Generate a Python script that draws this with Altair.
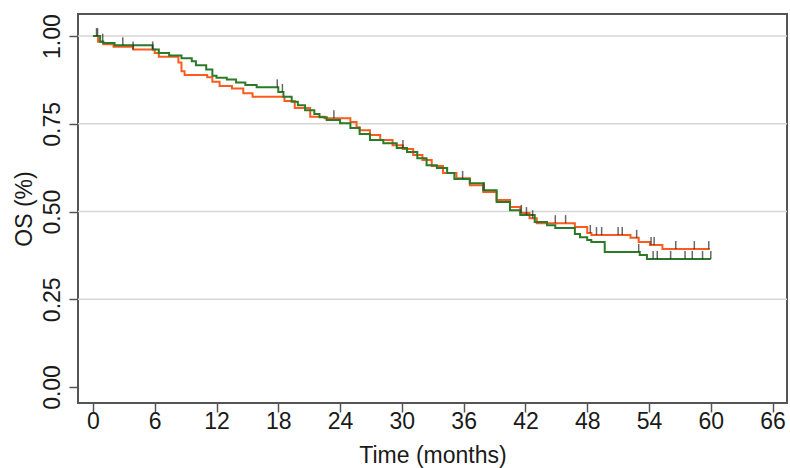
import altair as alt
import pandas as pd

# Step times (months) and survival after each step
green_t = [0, 0.7, 1.0, 2.1, 5.8, 6.4, 7.4, 8.6, 9.6, 10.0, 11.0, 11.6, 12.0, 13.0, 13.9,
           14.8, 15.9, 18.0, 18.5, 19.3, 19.9, 20.6, 21.5, 22.0, 22.7, 24.0, 25.0, 25.9,
           26.9, 28.2, 29.5, 30.5, 31.5, 32.4, 33.4, 34.4, 35.1, 36.6, 37.9, 39.2, 40.5,
           41.5, 42.9, 44.1, 44.9, 46.8, 47.3, 48.0, 48.4, 49.7, 53.1, 53.8]
green_s = [1.0, 0.984, 0.980, 0.974, 0.962, 0.952, 0.945, 0.937, 0.928, 0.917, 0.905, 0.887,
           0.881, 0.876, 0.868, 0.861, 0.854, 0.841, 0.827, 0.813, 0.803, 0.789, 0.778,
           0.769, 0.761, 0.752, 0.738, 0.721, 0.704, 0.695, 0.681, 0.670, 0.652, 0.632,
           0.624, 0.610, 0.593, 0.581, 0.561, 0.527, 0.504, 0.490, 0.470, 0.461, 0.453,
           0.436, 0.427, 0.419, 0.413, 0.385, 0.376, 0.365]
green_end = 60.0

orange_t = [0, 0.5, 1.0, 2.0, 3.9, 6.0, 6.4, 8.3, 8.6, 8.9, 11.1, 11.6, 12.3, 13.5, 14.6,
            15.5, 18.6, 19.6, 21.1, 22.5, 25.0, 25.6, 25.9, 26.9, 27.9, 29.1, 30.1, 31.1,
            32.0, 32.9, 34.0, 35.3, 36.6, 37.9, 39.2, 40.5, 41.5, 42.4, 43.1, 46.8, 48.0,
            48.4, 52.2, 53.0, 54.1, 55.3]
orange_s = [1.0, 0.984, 0.977, 0.970, 0.962, 0.952, 0.941, 0.925, 0.900, 0.889, 0.883,
            0.870, 0.858, 0.851, 0.837, 0.827, 0.815, 0.795, 0.770, 0.766, 0.755, 0.740,
            0.732, 0.718, 0.704, 0.689, 0.678, 0.661, 0.647, 0.630, 0.610, 0.595, 0.575,
            0.556, 0.533, 0.513, 0.496, 0.481, 0.467, 0.456, 0.439, 0.433, 0.425, 0.413,
            0.405, 0.393]
orange_end = 59.9

# Censoring times
green_cens = [0.35, 0.95, 2.9, 5.8, 17.9, 18.4, 30.1, 35.9, 38.0, 42.1, 53.0, 54.4, 54.8,
              56.1, 57.5, 58.2, 59.2, 60.0]
orange_cens = [0.45, 3.9, 23.4, 41.6, 42.7, 44.9, 45.9, 48.3, 48.9, 49.4, 51.0, 51.4, 52.8,
               54.2, 54.5, 56.6, 58.4, 59.8]

x_ticks = [0, 6, 12, 18, 24, 30, 36, 42, 48, 54, 60, 66]
y_ticks = [0.0, 0.25, 0.5, 0.75, 1.0]
grid_y = [0.25, 0.5, 0.75, 1.0]

groups = ["orange", "green"]
colors = ["#fb5b1f", "#2a7a2a"]

def curve_rows(name, ts, ss, end):
    rows = [{"group": name, "t": t, "s": s, "o": i} for i, (t, s) in enumerate(zip(ts, ss))]
    rows.append({"group": name, "t": end, "s": ss[-1], "o": len(ts)})
    return rows

def value_at(ts, ss, t):
    v = ss[0]
    for tt, s in zip(ts, ss):
        if tt <= t:
            v = s
    return v

line_df = pd.DataFrame(curve_rows("orange", orange_t, orange_s, orange_end) +
                       curve_rows("green", green_t, green_s, green_end))
cens_df = pd.DataFrame(
    [{"group": "green", "t": t, "s": value_at(green_t, green_s, t)} for t in green_cens] +
    [{"group": "orange", "t": t, "s": value_at(orange_t, orange_s, t)} for t in orange_cens])
grid_df = pd.DataFrame({"y": grid_y})

FONT = "Liberation Sans"
AX = "#555555"
xscale = alt.Scale(domain=[-1.45, 67.4], nice=False, zero=False)
yscale = alt.Scale(domain=[-0.0456, 1.063], nice=False, zero=False)

xaxis = alt.Axis(values=x_ticks, title="Time (months)", grid=False, domain=False,
                 tickSize=9, tickWidth=1.5, tickColor=AX,
                 labelFont=FONT, labelFontSize=23, labelColor="#1a1a1a",
                 labelBaseline="alphabetic", labelPadding=16, labelFlush=False,
                 titleFont=FONT, titleFontSize=23, titleFontWeight="normal",
                 titleColor="#1a1a1a", titleBaseline="alphabetic", titleY=59)
yaxis = alt.Axis(values=y_ticks, format=".2f", title="OS (%)", grid=False, domain=False,
                 tickSize=9, tickWidth=1.5, tickColor=AX,
                 labelFont=FONT, labelFontSize=23, labelColor="#1a1a1a",
                 labelAngle=270, labelAlign="center", labelBaseline="alphabetic",
                 labelPadding=10, labelFlush=False,
                 titleFont=FONT, titleFontSize=23, titleFontWeight="normal",
                 titleColor="#1a1a1a", titleAngle=270, titleAlign="center",
                 titleBaseline="alphabetic", titleX=-47, titleY=194.5)

grid = alt.Chart(grid_df).mark_rule(color="#d6d6d6", strokeWidth=1.5).encode(
    y=alt.Y("y:Q", scale=yscale, axis=yaxis))

lines = alt.Chart(line_df).mark_line(interpolate="step-after", strokeWidth=2).encode(
    x=alt.X("t:Q", scale=xscale, axis=xaxis),
    y=alt.Y("s:Q", scale=yscale),
    color=alt.Color("group:N", scale=alt.Scale(domain=groups, range=colors), legend=None),
    order="o:Q")

cens = alt.Chart(cens_df).mark_tick(orient="vertical", size=8, thickness=1.5,
                                    yOffset=-4, color="#2a2a2a").encode(
    x=alt.X("t:Q", scale=xscale),
    y=alt.Y("s:Q", scale=yscale))

chart = alt.layer(grid, lines, cens).properties(
    width=709, height=389,
    autosize=alt.AutoSizeParams(type="none"),
    padding={"left": 78, "top": 14, "right": 3, "bottom": 65},
    view=alt.ViewBackground(stroke=AX, strokeWidth=2, fill="white"),
).configure_view(stroke=AX, strokeWidth=2).configure(background="white")

chart.save("out.html", embed_options={"renderer": "svg", "actions": False})
